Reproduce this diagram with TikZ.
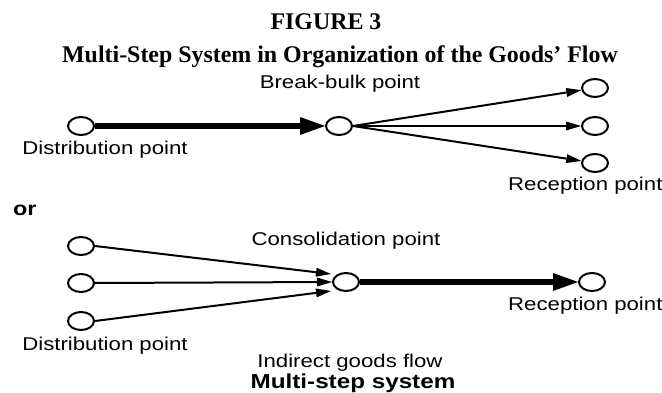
\documentclass[tikz,border=0pt]{standalone}
\usepackage{fontspec}
\setmainfont{Liberation Sans}[FakeStretch=1.2]
\newfontfamily\titlefont{Liberation Serif}
\usetikzlibrary{positioning, arrows.meta, shapes.geometric}

\begin{document}
\begin{tikzpicture}[
    x=1pt, y=-1pt,
    font=\fontsize{18.5}{22}\selectfont,
    pt/.style={
        ellipse, draw, line width=2pt,
        minimum width=26pt, minimum height=18pt,
        inner sep=0pt, fill=white
    },
    lbl/.style={anchor=base, inner sep=0pt},
    heading/.style={
        anchor=base, inner sep=0pt,
        font=\titlefont\bfseries\fontsize{23.9}{27}\selectfont
    },
    flow/.style={-{Triangle[length=15pt, width=9pt, line width=0pt]}, line width=2pt},
    bulkflow/.style={-{Triangle[length=25pt, width=18pt, line width=0pt]}, line width=6pt}
]

\useasboundingbox (0,0) rectangle (662,393);

%% ─── TITLE ───────────────────────────────────────────────────────────────

\node[heading] (fig) at (326,30) {FIGURE 3};
\node[heading] (sub) at (340,63) {Multi-Step System in Organization of the Goods’ Flow};

%% ─── UPPER SYSTEM: break-bulk ────────────────────────────────────────────

\node[pt] (dist) at (81,126)  {};
\node[pt] (bb)   at (339,126) {};
\node[pt] (rc1)  at (595,88)  {};
\node[pt] (rc2)  at (595,126) {};
\node[pt] (rc3)  at (595,163) {};

\node[lbl] (distlbl) at (105,155) {Distribution point};
\node[lbl] (bblbl)   at (340,88.5) {Break-bulk point};
\node[lbl, anchor=base west] (rclbl) at (508,191) {Reception point};

\draw[bulkflow] (dist.east) -- (bb.west);
\draw[flow] (bb.east) -- (rc1);
\draw[flow] (bb.east) -- (rc2);
\draw[flow] (bb.east) -- (rc3);

\node[lbl, anchor=base west, font=\bfseries\fontsize{19.5}{22}\selectfont] (orlbl) at (13,216) {or};

%% ─── LOWER SYSTEM: consolidation ─────────────────────────────────────────

\node[pt] (d1)  at (81,246)  {};
\node[pt] (d2)  at (81,283)  {};
\node[pt] (d3)  at (81,321)  {};
\node[pt] (con) at (346,282) {};
\node[pt] (rc)  at (592,282) {};

\node[lbl] (conlbl)   at (346,245) {Consolidation point};
\node[lbl] (distlbl2) at (105,350) {Distribution point};
\node[lbl, anchor=base west] (rclbl2) at (508,310) {Reception point};

\draw[flow] (d1.east) -- ([xshift=-1pt, yshift=8pt]con.west);
\draw[flow] (d2.east) -- (con.west);
\draw[flow] (d3.east) -- ([xshift=-1pt, yshift=-9pt]con.west);
\draw[bulkflow] (con.east) -- (rc.west);

%% ─── CAPTION ─────────────────────────────────────────────────────────────

\node[lbl] (indlbl) at (350,367) {Indirect goods flow};
\node[lbl, font=\bfseries\fontsize{20.2}{22}\selectfont] (mslbl) at (353,388) {Multi-step system};

\end{tikzpicture}
\end{document}
